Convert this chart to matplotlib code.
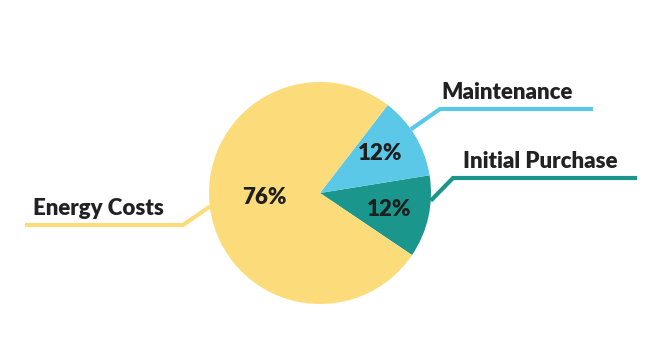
import matplotlib
matplotlib.use('Agg')
import matplotlib.pyplot as plt
import numpy as np

# data
labels = ["Initial Purchase", "Maintenance", "Energy Costs"]
shares = [12, 12, 76]
colors = ["#1a968c", "#5bc8e8", "#fcdc7a"]
pct_text = ["12%", "12%", "76%"]

plt.rcParams['font.family'] = ['Lato', 'DejaVu Sans']

fig = plt.figure(figsize=(6.68, 3.53), dpi=100)
ax = fig.add_axes([0, 0, 1, 1])

cx, cy, r = 320, 160, 111
wedges, _ = ax.pie(shares, colors=colors, startangle=-34, counterclock=True,
                   center=(cx, cy), radius=r, frame=True,
                   wedgeprops=dict(linewidth=0))

# percent labels (positions in pixel coords)
pct_pos = [(389, 144), (380, 200), (264, 155)]
for (x, y), t in zip(pct_pos, pct_text):
    ax.text(x, y, t, ha='center', va='center', fontsize=16,
            fontweight='heavy', color='#1f1f1f')

# leader lines: anchor angle on pie edge, elbow, end, text x
leaders = {
    "Initial Purchase": (-4, (453, 175), (637, 175), 463),
    "Maintenance": (35, (440, 244), (593, 244), 441),
    "Energy Costs": (187, (183, 128), (25, 128), 33),
}
for lab, col in zip(labels, colors):
    ang, elbow, end, tx = leaders[lab]
    a = np.deg2rad(ang)
    start = (cx + r * np.cos(a), cy + r * np.sin(a))
    ax.plot([start[0], elbow[0], end[0]], [start[1], elbow[1], end[1]],
            color=col, lw=3, solid_capstyle='butt', solid_joinstyle='miter')
    ax.text(tx, elbow[1] + 6, lab, ha='left', va='bottom', fontsize=16,
            fontweight='heavy', color='#222222')

ax.set_xlim(0, 668)
ax.set_ylim(0, 353)
ax.set_aspect('equal')
ax.axis('off')

fig.savefig("out.png", dpi=100)
